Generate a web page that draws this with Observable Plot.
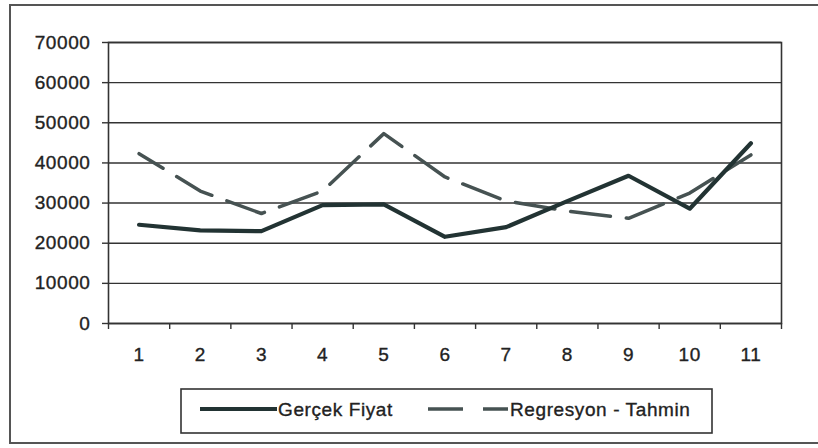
<!DOCTYPE html>
<html>
<head>
<meta charset="utf-8">
<script src="https://cdn.jsdelivr.net/npm/d3@7"></script>
<script src="https://cdn.jsdelivr.net/npm/@observablehq/plot@0.6"></script>
<style>
  html, body { margin: 0; padding: 0; background: #fff; }
  body { width: 818px; height: 448px; position: relative; overflow: hidden; font-family: "Liberation Sans", Arial, sans-serif; }
  #outer { position: absolute; left: 9px; top: 4px; width: 830px; height: 440px; border: 2px solid #555; box-sizing: border-box; }
  #chart { position: absolute; left: 0; top: 0; }
  #chart svg text, #legend text { letter-spacing: 0.6px; stroke: #222; stroke-width: 0.35px; }
  #legend { position: absolute; left: 180px; top: 388px; }
</style>
</head>
<body>
<div id="outer"></div>
<div id="chart"></div>
<svg id="legend" width="533" height="46"></svg>
<script>
const periods = [1, 2, 3, 4, 5, 6, 7, 8, 9, 10, 11];
const gercekFiyat = [24600, 23200, 23000, 29500, 29700, 21600, 24000, 30500, 36800, 28600, 44900];
const regresyonTahmin = [42300, 33000, 27400, 33000, 47300, 36500, 30500, 28000, 26200, 32500, 42000];
const yTicks = [0, 10000, 20000, 30000, 40000, 50000, 60000, 70000];
const seriesNames = ["Gerçek Fiyat", "Regresyon - Tahmin"];

const boundaries = [0.5, ...periods.map(p => p + 0.5)];
const solidData = periods.map((p, i) => ({x: p, y: gercekFiyat[i]}));
const dashData = periods.map((p, i) => ({x: p, y: regresyonTahmin[i]}));

const solidColor = "#223333";
const dashColor = "#465252";
const gridColor = "#333";

const plot = Plot.plot({
  width: 818,
  height: 380,
  marginLeft: 108,
  marginRight: 37,
  marginTop: 42,
  marginBottom: 57,
  style: {fontFamily: "'Liberation Sans', Arial, sans-serif", fontSize: "19px", color: "#222", background: "transparent"},
  x: {type: "linear", domain: [0.5, 11.5]},
  y: {domain: [0, 70000]},
  marks: [
    Plot.ruleY(yTicks, {stroke: gridColor, strokeWidth: 1.4}),
    Plot.frame({stroke: gridColor, strokeWidth: 1.6}),
    Plot.axisY(yTicks, {tickSize: 6, tickPadding: 12, tickFormat: d => String(d), stroke: gridColor, strokeWidth: 1.4, fill: "#222", label: null}),
    Plot.axisX(periods, {tickSize: 0, tickPadding: 24, tickFormat: d => String(d), fill: "#222", label: null}),
    Plot.axisX(boundaries, {tickSize: 6, tickFormat: () => "", stroke: gridColor, strokeWidth: 1.4, label: null}),
    Plot.line(dashData, {x: "x", y: "y", stroke: dashColor, strokeWidth: 3.5, strokeDasharray: "40,16", strokeDashoffset: 12}),
    Plot.line(solidData, {x: "x", y: "y", stroke: solidColor, strokeWidth: 4.2})
  ]
});
document.getElementById("chart").appendChild(plot);

const lg = d3.select("#legend");
lg.append("rect").attr("x", 1).attr("y", 1).attr("width", 531).attr("height", 44)
  .attr("fill", "#fff").attr("stroke", "#333").attr("stroke-width", 1.6);
lg.append("line").attr("x1", 20).attr("x2", 97).attr("y1", 21).attr("y2", 21)
  .attr("stroke", solidColor).attr("stroke-width", 4.2);
lg.append("text").attr("x", 98).attr("y", 28).text(seriesNames[0])
  .attr("font-size", 19).attr("fill", "#222")
  .attr("font-family", "'Liberation Sans', Arial, sans-serif");
lg.append("line").attr("x1", 248).attr("x2", 328).attr("y1", 21).attr("y2", 21)
  .attr("stroke", dashColor).attr("stroke-width", 3.5).attr("stroke-dasharray", "35,20");
lg.append("text").attr("x", 330).attr("y", 28).text(seriesNames[1])
  .attr("font-size", 19).attr("fill", "#222")
  .attr("font-family", "'Liberation Sans', Arial, sans-serif");
</script>
</body>
</html>
